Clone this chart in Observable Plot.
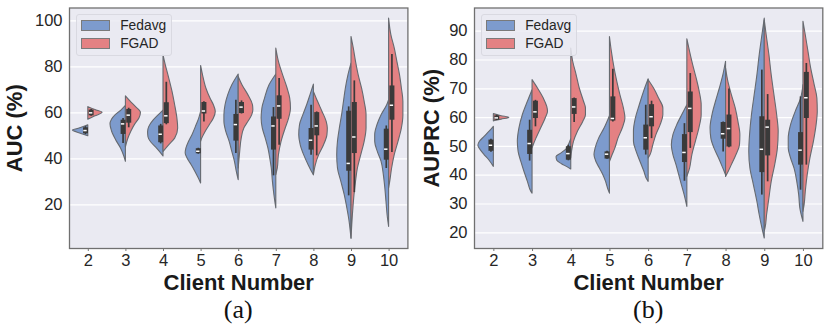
<!DOCTYPE html>
<html>
<head>
<meta charset="utf-8">
<script src="https://cdn.jsdelivr.net/npm/d3@7"></script>
<script src="https://cdn.jsdelivr.net/npm/@observablehq/plot@0.6"></script>
<style>
  body { margin: 0; background: #ffffff; }
  #wrap { display: flex; width: 831px; height: 328px; }
  .panel { position: relative; }
  .cap { font-family: "Liberation Serif", "Times New Roman", serif; font-size: 26px; line-height: 28px; text-align: center; color: #111; }
  .legend { position: absolute; top: 14px; box-sizing: border-box; padding: 1px 5px 3px 4.5px;
            background: rgba(234,234,242,0.85); border: 1px solid #d9d9e1; border-radius: 3px;
            font-family: "Liberation Sans", Arial, sans-serif; font-size: 13.8px; color: #262626; }
  .item { display: flex; align-items: center; height: 18px; }
  .sw { display: inline-block; width: 27px; height: 9px; border: 1px solid #7a7a7a; margin-right: 10px; }
</style>
</head>
<body>
<div id="wrap"></div>
<script>
// ---------------- data ----------------
const clients = [2, 3, 4, 5, 6, 7, 8, 9, 10];
const seriesNames = ["Fedavg", "FGAD"];
const seriesColors = ["#7D9BCD", "#E48183"];
const aucTicks = [20, 40, 60, 80, 100];
const auprcTicks = [20, 30, 40, 50, 60, 70, 80, 90];
const captions = ["(a)", "(b)"];
const yLabels = ["AUC (%)", "AUPRC (%)"];
const xLabel = "Client Number";

// violin half-profiles: [value, half-width] per client
const aucFedavgShape = [
  [[54.6,0],[53.8,0.12],[53,0.28],[52.3,0.41],[51.5,0.3],[50.6,0.14],[49.8,0]],
  [[63,0],[61,0.12],[59,0.27],[57,0.37],[55,0.41],[52,0.37],[48.1,0.26],[44.5,0.13],[40.9,0.04],[38.7,0]],
  [[61,0],[58.9,0.13],[56.7,0.26],[53.8,0.38],[51.6,0.41],[49.4,0.4],[47.2,0.33],[45,0.2],[42.9,0.09],[41,0]],
  [[60.4,0],[57.5,0.05],[54.6,0.12],[50.3,0.23],[47.4,0.32],[44.5,0.39],[42.3,0.41],[40.1,0.36],[37.2,0.25],[34.3,0.15],[31.4,0.06],[29.3,0]],
  [[76.7,0],[72,0.17],[67.6,0.28],[63.3,0.35],[59,0.38],[56.1,0.38],[51.7,0.33],[47.4,0.24],[43,0.17],[38.7,0.1],[34.3,0.05],[30.7,0]],
  [[76.7,0],[72,0.18],[66.2,0.3],[61.9,0.37],[57.5,0.39],[53.2,0.36],[48.8,0.28],[44.5,0.21],[40.1,0.16],[35.8,0.12],[30,0.09],[24.2,0.05],[18.4,0]],
  [[72.3,0],[67.7,0.09],[63.3,0.18],[59,0.28],[54.6,0.37],[50.3,0.39],[45.9,0.35],[41.6,0.26],[37.2,0.14],[34.3,0.05],[32.9,0]],
  [[81.4,0],[76.4,0.08],[70.6,0.15],[64.8,0.2],[59,0.25],[53.2,0.31],[47.4,0.36],[41.6,0.38],[35.8,0.36],[30,0.27],[24.2,0.18],[18.4,0.11],[12.6,0.05],[6.8,0.01],[5.3,0]],
  [[65.5,0],[63.3,0.05],[59,0.2],[54.6,0.31],[50.3,0.37],[47.4,0.37],[43,0.3],[38.7,0.2],[32.9,0.14],[27.1,0.1],[21.3,0.07],[15.5,0.04],[10.4,0]]
];
const aucFgadShape = [
  [[62.5,0],[61.2,0.19],[60,0.38],[58.5,0.19],[57,0]],
  [[67.2,0],[65,0.12],[62.5,0.27],[60,0.4],[57.5,0.36],[55,0.25],[52,0.15],[48.5,0.06],[45,0]],
  [[85,0],[80.7,0.06],[76.4,0.13],[69.1,0.24],[63.3,0.31],[57.5,0.37],[53.2,0.39],[48.8,0.31],[45.9,0.15],[43,0]],
  [[80.4,0],[76.4,0.05],[70.6,0.14],[66.2,0.25],[63.3,0.34],[60.4,0.39],[57.5,0.34],[54.6,0.23],[51.7,0.12],[48.8,0.03],[47.4,0]],
  [[75.6,0],[72,0.1],[67.6,0.26],[63.3,0.38],[61.1,0.39],[59,0.36],[56.1,0.26],[53.2,0.15],[48.8,0.08],[43,0.04],[35.8,0]],
  [[88,0],[82.2,0.07],[76.4,0.18],[70.6,0.3],[66.2,0.37],[61.9,0.39],[57.5,0.34],[53.2,0.25],[47.4,0.14],[41.6,0.07],[35.8,0.04],[32.9,0]],
  [[69.1,0],[64.8,0.11],[60.4,0.23],[56.1,0.34],[53.2,0.37],[50.3,0.36],[45.9,0.27],[41.6,0.14],[37.2,0.05],[32.9,0]],
  [[93,0],[88,0.06],[82.2,0.12],[76.4,0.19],[70.6,0.28],[64.8,0.35],[59,0.4],[53.2,0.4],[47.4,0.35],[41.6,0.26],[35.8,0.17],[30,0.12],[24.2,0.08],[18.4,0.05],[11.1,0.02],[5.3,0]],
  [[101,0],[93.8,0.06],[88,0.15],[82.2,0.22],[76.4,0.29],[70.6,0.34],[64.8,0.38],[59,0.38],[53.2,0.34],[47.4,0.25],[41.6,0.15],[35.8,0.08],[30,0.03],[27.1,0]]
];
const auprcFedavgShape = [
  [[56.8,0],[55.1,0.11],[53.3,0.24],[51.6,0.36],[50.2,0.4],[48.7,0.34],[47,0.24],[45.2,0.12],[42.9,0]],
  [[69.5,0],[65.5,0.12],[60.9,0.25],[56.2,0.34],[51.6,0.38],[48.1,0.36],[44.6,0.29],[41.2,0.21],[37.7,0.12],[34.2,0.03],[33.6,0]],
  [[52.5,0],[50.5,0.06],[49,0.12],[47.5,0.26],[46.3,0.38],[45,0.36],[43.8,0.24],[42.8,0.1],[42,0]],
  [[60.5,0],[56.2,0.14],[52.7,0.28],[49.3,0.37],[47,0.4],[44.6,0.35],[42.3,0.26],[40,0.17],[37.7,0.1],[35.4,0.05],[33.6,0]],
  [[73.3,0],[68.9,0.12],[64.3,0.23],[59.7,0.33],[55.1,0.38],[51.6,0.38],[48.1,0.31],[44.6,0.21],[41.2,0.11],[38.8,0.05],[37.7,0]],
  [[64.3,0],[60.9,0.13],[57.4,0.26],[53.9,0.36],[50.4,0.4],[47,0.36],[43.5,0.28],[40,0.21],[36.5,0.14],[33.1,0.07],[29,0]],
  [[79.4,0],[74.7,0.07],[70.1,0.16],[65.5,0.26],[60.9,0.35],[56.2,0.4],[52.7,0.38],[49.3,0.3],[45.8,0.18],[42.3,0.07],[40,0]],
  [[94.4,0],[88.6,0.06],[81.7,0.13],[74.7,0.19],[67.8,0.26],[60.9,0.33],[53.9,0.38],[48.1,0.4],[42.3,0.37],[36.5,0.28],[30.7,0.19],[26.1,0.13],[21.5,0.06],[18,0]],
  [[71.3,0],[66.6,0.06],[62,0.2],[57.4,0.32],[52.7,0.38],[49.3,0.38],[45.8,0.32],[42.3,0.23],[37.7,0.16],[33.1,0.11],[28.4,0.08],[23.8,0]]
];
const auprcFgadShape = [
  [[61.2,0],[60.5,0.2],[59.9,0.4],[59.3,0.2],[58.7,0]],
  [[73,0],[70.1,0.14],[66.6,0.29],[63.7,0.38],[62,0.4],[59.7,0.34],[56.2,0.22],[52.7,0.1],[50.4,0.03],[49.3,0]],
  [[84,0],[79.4,0.05],[74.7,0.14],[70.1,0.22],[65.5,0.33],[63.2,0.38],[60.8,0.38],[58.5,0.31],[55,0.17],[51.6,0.07],[48.1,0.02],[45.8,0]],
  [[88,0],[82.8,0.05],[77,0.12],[72.4,0.19],[67.8,0.27],[63.2,0.36],[59.7,0.4],[56.2,0.33],[52.7,0.22],[49.3,0.14],[47,0.07],[44.6,0]],
  [[73,0],[70.1,0.14],[66.6,0.27],[63.2,0.38],[60.8,0.38],[57.4,0.31],[53.9,0.2],[50.4,0.12],[47,0.05],[45.8,0]],
  [[87.2,0],[82.8,0.07],[78.2,0.15],[73.6,0.24],[68.9,0.32],[64.3,0.37],[60.9,0.37],[56.2,0.31],[51.6,0.22],[47,0.13],[42.3,0.07],[39.4,0]],
  [[77.1,0],[72.4,0.06],[67.8,0.15],[63.2,0.25],[58.5,0.32],[53.9,0.37],[50.4,0.36],[47,0.27],[43.5,0.15],[41.2,0.07],[39.4,0]],
  [[93.8,0],[88.6,0.05],[81.7,0.12],[74.7,0.18],[67.8,0.25],[60.9,0.32],[55.1,0.36],[49.3,0.34],[43.5,0.27],[37.7,0.18],[31.9,0.12],[26.1,0.06],[21.5,0.02],[20.5,0]],
  [[93.3,0],[88.6,0.06],[82.8,0.13],[77,0.2],[71.3,0.29],[66.6,0.36],[62,0.37],[57.4,0.34],[51.6,0.27],[45.8,0.18],[40,0.11],[34.2,0.06],[29.6,0.03],[27.3,0]]
];

// inner boxes: [whisker low, q1, median, q3, whisker high]
const aucFedavgBox = [
  [50.5,50.9,52.3,53.5,54],[46.7,50.6,55.2,56.8,57.5],[46.5,47,50.7,54.3,55],
  [42,42.2,43.3,44.4,44.6],[42.3,47.7,54.9,59.3,65.5],[32.6,43.8,54.3,58.2,62.3],
  [41.6,43.8,48.1,53.2,63.3],[23.9,34.6,38,60.7,62.6],[35.8,39.4,44.2,52.9,54.3]
];
const aucFgadBox = [
  [58.5,58.7,60,61.2,61.5],[53.5,55.5,59,61.5,62],[54.8,55.3,58.7,64.4,73.3],
  [56,59.5,60.8,64.5,64.8],[59.5,59.7,62.5,64.5,65.2],[45.9,57.2,63,67.4,74.9],
  [41.3,50,54.3,60.1,60.4],[25.3,42.3,49.5,64.5,73.9],[42.7,56.8,63.3,71.7,85.4]
];
const auprcFedavgBox = [
  [48,48.3,50.4,52.2,52.5],[44.9,47.2,51,55.6,59.1],[45,45.2,47.5,49.9,50.4],
  [45.5,45.6,47.3,48.1,48.3],[47,48.7,53,57.4,64.3],[37.9,44.4,47.9,54.1,57.9],
  [48.1,52.5,54.4,58.3,58.5],[33.1,40.9,49,60.3,76.5],[34.8,43.5,48.7,54.8,67.2]
];
const auprcFgadBox = [
  [59,59.1,59.9,60.6,60.8],[56.8,59.7,62,65.7,66],[58.3,61.1,63.7,66.6,66.8],
  [58.5,58.8,59.7,67.2,76.8],[52.7,56.8,60.3,64.5,65.7],[49.3,54.8,63.2,68.9,75.3],
  [49.5,49.8,56.2,60.9,69.9],[37.7,46.7,56.7,59.1,68],[43.5,59.7,66.9,75.7,78.8]
];

// ---------------- drawing ----------------
const BOX_OFF = 0.075;

function violinRows(shapes, side, name) {
  const rows = [];
  shapes.forEach((prof, i) => {
    const c = clients[i];
    const sorted = prof.slice().sort((a, b) => a[0] - b[0]);
    for (const [v, w] of sorted) {
      rows.push({key: name + c, series: name, y: v,
                 x1: side < 0 ? c - w : c, x2: side < 0 ? c : c + w});
    }
  });
  return rows;
}
function boxRows(boxes, side, name) {
  return boxes.map((b, i) => ({series: name, x: clients[i] + side * BOX_OFF,
    wlo: b[0], q1: b[1], med: b[2], q3: b[3], whi: b[4]}));
}

function makePanel(cfg) {
  const violins = violinRows(cfg.fedShape, -1, seriesNames[0]).concat(violinRows(cfg.fgadShape, 1, seriesNames[1]));
  const boxes = boxRows(cfg.fedBox, -1, seriesNames[0]).concat(boxRows(cfg.fgadBox, 1, seriesNames[1]));
  const svg = Plot.plot({
    width: cfg.width, height: 296,
    marginLeft: cfg.marginLeft, marginRight: cfg.marginRight, marginTop: 7.5, marginBottom: 48,
    x: {domain: [1.5, 10.5]},
    y: {domain: cfg.yDomain},
    color: {domain: seriesNames, range: seriesColors},
    style: {fontFamily: '"Liberation Sans", Arial, sans-serif', fontSize: "16.5px", color: "#262626", background: "transparent", overflow: "visible"},
    marks: [
      Plot.frame({fill: "#EAEAF2", stroke: null}),
      Plot.gridY(cfg.yTicks, {stroke: "#ffffff", strokeOpacity: 1, strokeWidth: 1.2}),
      Plot.areaX(violins, {y: "y", x1: "x1", x2: "x2", z: "key", fill: "series", fillOpacity: 1,
                           stroke: "#666a70", strokeWidth: 1.1, curve: "monotone-y"}),
      Plot.ruleX(boxes, {x: "x", y1: "wlo", y2: "whi", stroke: "#3a3a3a", strokeWidth: 1.7}),
      Plot.ruleX(boxes, {x: "x", y1: "q1", y2: "q3", stroke: "#3a3a3a", strokeWidth: 5}),
      Plot.ruleY(boxes, {y: "med", x1: d => d.x - 0.045, x2: d => d.x + 0.045, stroke: "#ffffff", strokeWidth: 1.5}),
      Plot.axisX(clients, {tickSize: 3, tickPadding: 3, stroke: "#777", fill: "#262626",
                           label: xLabel, labelArrow: "none", labelAnchor: "center", labelOffset: 41, tickFormat: d => String(d)}),
      Plot.axisY(cfg.yTicks, {tickSize: 0, tickPadding: 7, fill: "#262626",
                              label: cfg.yLabel, labelArrow: "none", labelAnchor: "center", labelOffset: cfg.labelOffsetY}),
      Plot.frame({stroke: "#707070", strokeWidth: 1.3, fill: null})
    ]
  });
  d3.select(svg).selectAll('g[aria-label="x-axis label"], g[aria-label="y-axis label"]')
    .attr("font-size", 22).attr("font-weight", "bold").attr("fill", "#1a1a1a");
  d3.select(svg).selectAll('g[aria-label="x-axis label"] text, g[aria-label="y-axis label"] text')
    .attr("font-size", 22).attr("font-weight", "bold");

  const panel = document.createElement("div");
  panel.className = "panel";
  panel.style.width = cfg.width + "px";
  panel.appendChild(svg);

  const legend = document.createElement("div");
  legend.className = "legend";
  legend.style.left = (cfg.marginLeft + 6.7) + "px";
  seriesNames.forEach((n, i) => {
    const it = document.createElement("div");
    it.className = "item";
    const sw = document.createElement("span");
    sw.className = "sw";
    sw.style.background = seriesColors[i];
    it.appendChild(sw);
    it.appendChild(document.createTextNode(n));
    legend.appendChild(it);
  });
  panel.appendChild(legend);

  const cap = document.createElement("div");
  cap.className = "cap";
  cap.style.marginLeft = cfg.marginLeft + "px";
  cap.style.width = (cfg.width - cfg.marginLeft - cfg.marginRight) + "px";
  cap.textContent = cfg.caption;
  panel.appendChild(cap);
  return panel;
}

const wrap = document.getElementById("wrap");
wrap.appendChild(makePanel({
  width: 415, marginLeft: 69, marginRight: 7.6, yDomain: [1.0, 105.6], yTicks: aucTicks,
  yLabel: yLabels[0], labelOffsetY: 63, caption: captions[0],
  fedShape: aucFedavgShape, fgadShape: aucFgadShape, fedBox: aucFedavgBox, fgadBox: aucFgadBox
}));
wrap.appendChild(makePanel({
  width: 416, marginLeft: 59, marginRight: 8.7, yDomain: [14.55, 98.06], yTicks: auprcTicks,
  yLabel: yLabels[1], labelOffsetY: 51, caption: captions[1],
  fedShape: auprcFedavgShape, fgadShape: auprcFgadShape, fedBox: auprcFedavgBox, fgadBox: auprcFgadBox
}));
</script>
</body>
</html>
